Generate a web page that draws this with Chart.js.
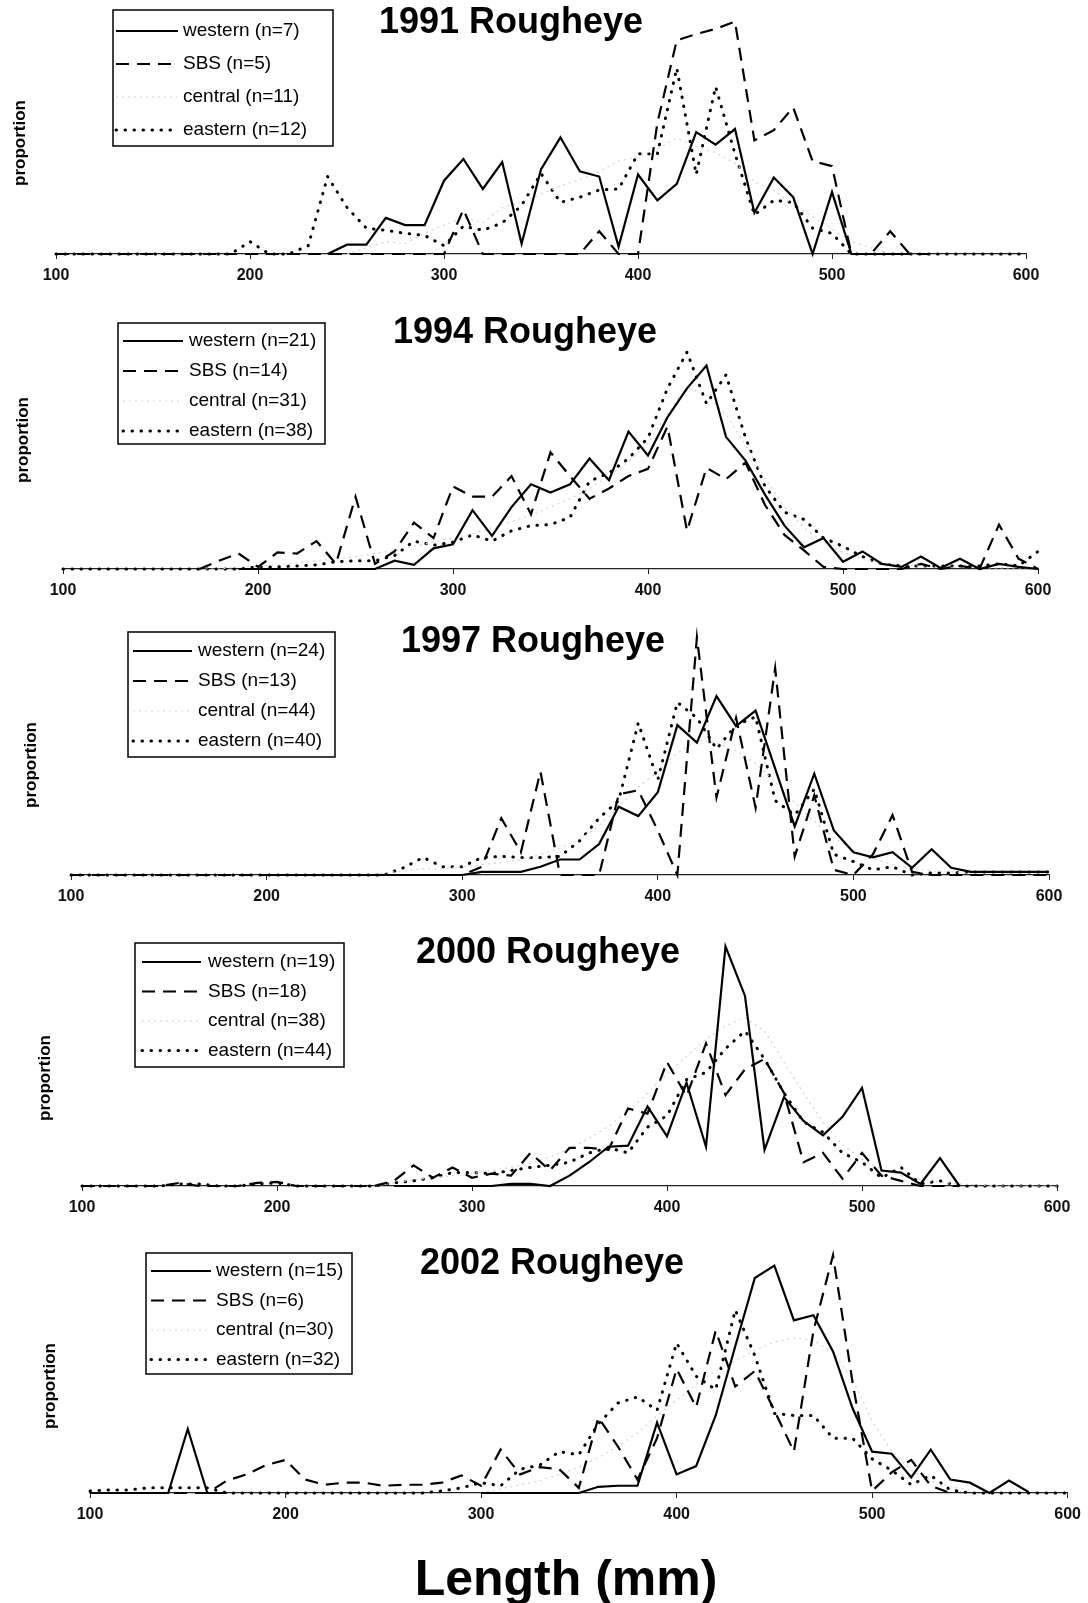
<!DOCTYPE html>
<html><head><meta charset="utf-8">
<script src="https://cdn.jsdelivr.net/npm/chart.js@4.4.1/dist/chart.umd.min.js"></script>
<style>
body{margin:0;background:#fff;width:1088px;height:1603px;position:relative;overflow:hidden;font-family:"Liberation Sans",Arial,sans-serif}
canvas{position:absolute;left:0}
#xt{position:absolute;left:316px;width:500px;top:1552px;text-align:center;font:bold 50px "Liberation Sans",Arial,sans-serif;line-height:52px;color:#000}
</style></head><body>
<canvas id="c0" width="1088" height="294" style="top:0px"></canvas>
<canvas id="c1" width="1088" height="325" style="top:284px"></canvas>
<canvas id="c2" width="1088" height="316" style="top:599px"></canvas>
<canvas id="c3" width="1088" height="321" style="top:905px"></canvas>
<canvas id="c4" width="1088" height="317" style="top:1216px"></canvas>
<div id="xt">Length (mm)</div>
<script>
const _ = null;
// Length classes (mm)
const lengths = [100,110,120,130,140,150,160,170,180,190,
                 200,210,220,230,240,250,260,270,280,290,
                 300,310,320,330,340,350,360,370,380,390,
                 400,410,420,430,440,450,460,470,480,490,
                 500,510,520,530,540,550,560,570,580,590,600];
const xTicks = [100,200,300,400,500,600];
const years = ["1991","1994","1997","2000","2002"];
const seriesNames = ["western","SBS","central","eastern"];
const nWestern = [7,21,24,19,15];
const nSBS = [5,14,13,18,6];
const nCentral = [11,31,44,38,30];
const nEastern = [12,38,40,44,32];

// ---- 1991 ----
const west1991 = [_,_,_,_,_,_,_,_,_,_,
  _,_,_,_,0,.009,.009,.035,.028,.028,
  .071,.092,.063,.089,.010,.082,.113,.080,.075,.007,
  .077,.052,.068,.118,.106,.121,.040,.074,.055,0,
  .060,0,0,0,0,_,_,_,_,_, _];
const sbs1991 = [0,0,0,0,0,0,0,0,0,0,
  0,0,0,0,0,0,0,0,0,0,
  0,.043,0,0,0,0,0,0,.022,0,
  0,.127,.207,.213,.218,.225,.110,.120,.142,.090,
  .085,0,0,.022,0,0,_,_,_,_, _];
const cen1991 = [_,_,_,_,_,_,_,_,_,_,
  _,_,_,_,_,0,.006,.012,.010,.020,
  .028,.035,.030,.045,.050,.058,.066,.072,.080,.090,
  .094,.102,.112,.104,.098,.088,.070,.062,.048,.036,
  .024,.012,.006,0,0,_,_,_,_,_, _];
const east1991 = [0,0,0,0,0,0,0,0,0,0,
  .012,0,0,.008,.075,.045,.025,.023,.020,.018,
  .008,.027,.023,.030,.047,.078,.050,.055,.062,.063,
  .097,.097,.180,.077,.162,.097,.038,.052,.050,.025,
  .020,0,0,0,0,0,0,0,0,0, 0];

// ---- 1994 ----
const west1994 = [_,_,_,_,_,_,_,_,_,0,
  0,0,0,0,0,0,0,.008,.004,.020,
  .024,.057,.032,.060,.082,.074,.082,.107,.086,.133,
  .110,.147,.175,.197,.128,.105,.072,.042,.021,.030,
  .007,.017,.005,.002,.012,.001,.010,0,.005,.002, 0];
const sbs1994 = [_,_,_,_,_,_,_,0,.008,.015,
  .002,.016,.015,.027,.005,.070,.005,.017,.045,.030,
  .080,.070,.070,.090,.053,.113,.090,.068,.078,.090,
  .097,.138,.037,.098,.087,.103,.062,.033,.018,.002,
  0,0,0,0,.005,0,.003,0,.043,.010, 0];
const cen1994 = [_,_,_,_,_,_,_,0,0,.002,
  .003,.004,.006,.008,.010,.012,.015,.018,.022,.026,
  .030,.034,.040,.046,.052,.060,.068,.078,.090,.104,
  .122,.150,.176,.168,.150,.120,.088,.060,.040,.026,
  .016,.010,.006,.004,.003,.002,.002,.001,.001,.001, 0];
const east1994 = [0,0,0,0,0,0,0,0,0,0,
  .002,.002,.003,.004,.007,.008,.008,.013,.027,.023,
  .026,.033,.027,.037,.042,.043,.050,.085,.093,.107,
  .127,.175,.210,.160,.188,.127,.080,.055,.048,.030,
  .022,.012,.005,.003,.003,.003,.003,.003,.005,.003, .017];

// ---- 1997 ----
const west1997 = [_,_,_,_,_,_,_,_,_,_,
  0,0,0,0,0,0,0,0,0,0,
  0,.003,.003,.003,.008,.015,.015,.030,.066,.057,
  .080,.145,.128,.173,.144,.159,.103,.047,.098,.043,
  .022,.017,.022,.007,.025,.007,.003,.003,.003,.003, .003];
const sbs1997 = [0,0,0,0,0,0,0,0,0,0,
  0,0,0,0,0,0,0,0,0,0,
  0,.008,.055,.022,.100,0,0,0,.078,.082,
  .043,0,.230,.075,.152,.065,.200,.018,.077,.005,
  0,.020,.058,.003,0,0,0,0,0,0, 0];
const cen1997 = [_,_,_,_,_,_,_,_,_,_,
  0,0,0,0,0,0,.002,.004,.006,.006,
  .008,.010,.012,.015,.020,.026,.034,.048,.066,.085,
  .100,.118,.130,.128,.120,.108,.090,.070,.052,.036,
  .024,.016,.010,.006,.004,.003,.002,.002,.002,.002, .002];
const east1997 = [0,0,0,0,0,0,0,0,0,0,
  0,0,0,0,0,0,0,.007,.017,.008,
  .008,.017,.018,.017,.017,.018,.033,.055,.072,.147,
  .092,.167,.152,.122,.145,.153,.072,.058,.083,.020,
  .013,.005,.008,0,.002,.002,.003,.003,.003,.003, .003];

// ---- 2000 ----
const west2000 = [_,_,_,_,_,_,_,_,_,_,
  _,_,_,_,_,_,0,0,0,0,
  0,0,.002,.002,0,.010,.023,.038,.039,.077,
  .048,.100,.038,.232,.184,.035,.086,.063,.049,.067,
  .095,.015,.013,.002,.027,0,_,_,_,_, _];
const sbs2000 = [0,0,0,0,0,.003,0,0,0,.003,
  .004,0,0,0,0,0,.005,.020,.008,.018,
  .008,.012,.010,.032,.015,.037,.037,.035,.075,.070,
  .120,.087,.138,.088,.113,.123,.090,.023,.032,.007,
  .032,.010,.005,0,0,0,_,_,_,_, _];
const cen2000 = [_,_,_,_,_,_,_,_,_,_,
  _,_,_,_,_,0,.003,.006,.008,.010,
  .012,.015,.018,.022,.028,.036,.046,.058,.072,.090,
  .108,.126,.142,.155,.163,.150,.120,.090,.062,.040,
  .026,.016,.010,.006,.004,.002,.001,0,0,0, 0];
const east2000 = [0,0,0,0,0,.002,.002,0,0,.002,
  .003,0,0,0,0,0,.003,.005,.008,.013,
  .013,.012,.015,.018,.020,.023,.032,.037,.032,.057,
  .068,.103,.110,.133,.150,.123,.090,.062,.052,.032,
  .023,.008,.018,.002,.005,0,0,0,0,0, 0];

// ---- 2002 ----
const west2002 = [0,0,0,0,0,.062,0,0,_,_,
  _,_,_,_,_,_,_,_,_,_,
  0,0,0,0,0,0,.006,.007,.007,.068,
  .018,.026,.075,.142,.208,.220,.167,.172,.137,.082,
  .040,.038,.015,.042,.013,.010,0,.012,.001,_, _];
const sbs2002 = [0,0,0,0,0,0,0,.012,.018,.027,
  .032,.013,.008,.010,.010,.007,.008,.008,.010,.017,
  .007,.042,.018,.025,.023,.005,.073,.045,.013,.053,
  .120,.083,.157,.103,.118,.080,.040,.157,.230,.107,
  .002,.020,.032,.007,0,_,_,_,_,_, _];
const cen2002 = [_,_,_,_,_,_,_,_,_,_,
  _,_,_,_,_,_,_,_,_,_,
  0,.004,.008,.012,.018,.025,.034,.045,.058,.075,
  .090,.105,.118,.128,.138,.146,.150,.148,.136,.110,
  .070,.040,.022,.012,.006,.003,_,_,_,_, _];
const east2002 = [.002,.003,.003,.005,.005,.005,.005,0,0,0,
  0,0,0,0,0,0,0,0,.002,.005,
  .010,.007,.023,.027,.040,.037,.067,.087,.093,.080,
  .145,.113,.100,.177,.133,.077,.075,.075,.053,.053,
  .033,.022,.008,.017,.003,0,0,0,0,0, 0];

const westAll = [west1991, west1994, west1997, west2000, west2002];
const sbsAll  = [sbs1991, sbs1994, sbs1997, sbs2000, sbs2002];
const cenAll  = [cen1991, cen1994, cen1997, cen2000, cen2002];
const eastAll = [east1991, east1994, east1997, east2000, east2002];

// ---- layout / styling (not data) ----
const panels = [
  {padL:56, padR:62, ymax:.246, title:[511,23],  box:[113,10,220,136], row0:31, gap:33, sx:[116,178], tx:183, ylab:[20,143]},
  {padL:63, padR:50, ymax:.276, title:[525,49],  box:[118,39,207,121], row0:57, gap:30, sx:[123,183], tx:189, ylab:[23,156]},
  {padL:71, padR:39, ymax:.267, title:[533,43],  box:[128,33,207,125], row0:52, gap:30, sx:[133,192], tx:198, ylab:[31,166]},
  {padL:82, padR:31, ymax:.272, title:[548,48],  box:[135,38,209,124], row0:57, gap:29.5, sx:[142,201], tx:208, ylab:[45,173]},
  {padL:90, padR:18, ymax:.268, title:[552,48],  box:[146,37,206,121], row0:55, gap:29.5, sx:[151,211], tx:216, ylab:[50,170]}
];
const styles = [
  {borderColor:'#000', borderWidth:2.2, borderDash:[], borderCapStyle:'butt'},
  {borderColor:'#000', borderWidth:2.2, borderDash:[13,8], borderCapStyle:'butt'},
  {borderColor:'#d4d4d4', borderWidth:1.2, borderDash:[2,4], borderCapStyle:'butt'},
  {borderColor:'#000', borderWidth:3, borderDash:[0.5,8.5], borderCapStyle:'round'}
];

const decor = {
  id:'decor',
  afterDraw(chart, args, o){
    const ctx = chart.ctx, p = o.panel;
    ctx.save();
    ctx.fillStyle = '#000';
    ctx.textAlign = 'center'; ctx.textBaseline = 'middle';
    ctx.font = 'bold 36px "Liberation Sans", Arial, sans-serif';
    ctx.fillText(o.title, p.title[0], p.title[1]);
    ctx.save();
    ctx.translate(p.ylab[0], p.ylab[1]); ctx.rotate(-Math.PI/2);
    ctx.font = 'bold 17px "Liberation Sans", Arial, sans-serif';
    ctx.fillText('proportion', 0, 0);
    ctx.restore();
    // legend box
    ctx.strokeStyle = '#000'; ctx.lineWidth = 1.5; ctx.setLineDash([]);
    ctx.strokeRect(p.box[0], p.box[1], p.box[2], p.box[3]);
    ctx.textAlign = 'left';
    ctx.font = '19px "Liberation Sans", Arial, sans-serif';
    chart.data.datasets.forEach((ds, i) => {
      const y = p.row0 + i * p.gap;
      ctx.save();
      ctx.strokeStyle = ds.borderColor; ctx.lineWidth = ds.borderWidth;
      ctx.setLineDash(ds.borderDash); ctx.lineCap = ds.borderCapStyle;
      ctx.beginPath(); ctx.moveTo(p.sx[0], y); ctx.lineTo(p.sx[1], y); ctx.stroke();
      ctx.restore();
      ctx.fillStyle = '#000';
      ctx.fillText(ds.label, p.tx, y);
    });
    ctx.restore();
  }
};

years.forEach((yr, k) => {
  const p = panels[k];
  const arrays = [westAll[k], sbsAll[k], cenAll[k], eastAll[k]];
  const ns = [nWestern[k], nSBS[k], nCentral[k], nEastern[k]];
  const datasets = [0,1,3,2].map(i => Object.assign({
    label: seriesNames[i] + ' (n=' + ns[i] + ')',
    data: lengths.map((x, j) => ({x: x, y: arrays[i][j]})),
    fill:false, pointRadius:0, tension:0, spanGaps:false, clip:false
  }, styles[i]));
  // keep legend order western, SBS, central, eastern
  datasets.sort((a,b)=> seriesNames.indexOf(a.label.split(' ')[0]) - seriesNames.indexOf(b.label.split(' ')[0]));
  new Chart(document.getElementById('c' + k), {
    type:'line',
    data:{datasets:datasets},
    options:{
      responsive:false, animation:false, devicePixelRatio:1,
      layout:{padding:{left:p.padL, right:p.padR, top:0, bottom:0}},
      plugins:{legend:{display:false}, tooltip:{enabled:false}, title:{display:false},
               decor:{title: yr + ' Rougheye', panel:p}},
      scales:{
        x:{type:'linear', min:100, max:600,
           afterBuildTicks:(s)=>{ s.ticks = xTicks.map(v=>({value:v})); },
           ticks:{font:{family:'"Liberation Sans", Arial, sans-serif', size:16, weight:'bold'}, color:'#111', padding:7, maxRotation:0},
           grid:{drawOnChartArea:false, drawTicks:true, tickLength:5, color:'#222', lineWidth:1},
           border:{display:true, color:'#222', width:1.2},
           afterFit:(s)=>{ s.height = 40; }},
        y:{display:false, min:0, max:p.ymax}
      }
    },
    plugins:[decor]
  });
});
</script>
</body></html>
